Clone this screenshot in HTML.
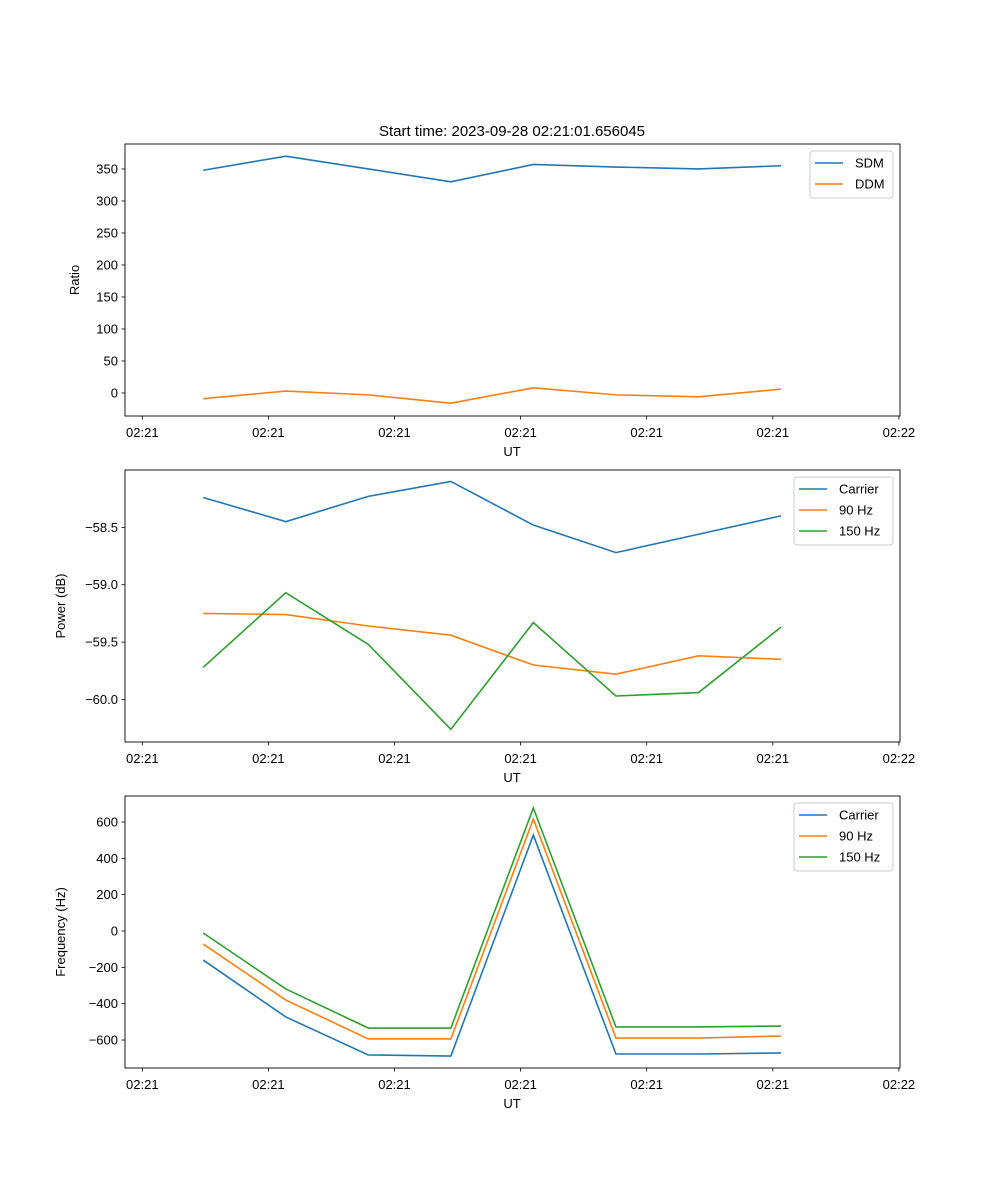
<!DOCTYPE html>
<html><head><meta charset="utf-8"><style>
html,body{margin:0;padding:0;background:#fff;}
svg{display:block;font-family:"Liberation Sans","DejaVu Sans",sans-serif;}
</style></head><body>
<svg id="fig" width="1000" height="1200" viewBox="0 0 1000 1200">
<text x="512" y="136" font-size="15" text-anchor="middle">Start time: 2023-09-28 02:21:01.656045</text>
</svg>
<script>
const times = [0.483, 1.138, 1.792, 2.447, 3.101, 3.756, 4.411, 5.065];
const xTicks = [0, 1, 2, 3, 4, 5, 6];
const xTickLabels = ["02:21","02:21","02:21","02:21","02:21","02:21","02:22"];
const sdm = [348, 370, 350, 330, 357, 353, 350, 355];
const ddm = [-9, 3, -3, -16, 8, -3, -6, 6];
const pCarrier = [-58.24, -58.45, -58.23, -58.10, -58.48, -58.72, -58.56, -58.40];
const p90 = [-59.25, -59.26, -59.36, -59.44, -59.70, -59.78, -59.62, -59.65];
const p150 = [-59.72, -59.07, -59.52, -60.26, -59.33, -59.97, -59.94, -59.37];
const fCarrier = [-160, -473, -682, -688, 528, -677, -677, -671];
const f90 = [-72, -380, -594, -594, 616, -589, -589, -578];
const f150 = [-11, -319, -534, -534, 677, -528, -528, -523];
const ticks1 = [0, 50, 100, 150, 200, 250, 300, 350];
const ticks2 = [-58.5, -59.0, -59.5, -60.0];
const ticks3 = [-600, -400, -200, 0, 200, 400, 600];

const NS = "http://www.w3.org/2000/svg";
const svg = document.getElementById('fig');
function mk(tag, attrs, parent) {
  const e = document.createElementNS(NS, tag);
  for (const k in attrs) e.setAttribute(k, attrs[k]);
  (parent || svg).appendChild(e);
  return e;
}
const L = 125, R = 900;
const xs = t => 142.3 + (t) * 126.1;
function fmt(v, dec) { return (v < 0 ? "\u2212" : "") + Math.abs(v).toFixed(dec); }

function panel(id, top, bottom, ymin, ymax, yticks, dec, ylabel, series, legend) {
  const g = mk('g', {});
  
  
  const ys = v => bottom - (v - ymin) / (ymax - ymin) * (bottom - top);
  yticks.forEach(v => {
    const y = ys(v);
    mk('line', {x1: L - 3.5, x2: L, y1: y, y2: y, stroke: '#000', 'stroke-width': 0.8}, g);
    const t = mk('text', {x: L - 7, y: y + 4.5, 'font-size': 13, 'text-anchor': 'end'}, g);
    t.textContent = fmt(v, dec);
    
    
  });
  xTicks.forEach((v, i) => {
    const x = xs(v);
    mk('line', {x1: x, x2: x, y1: bottom, y2: bottom + 3.5, stroke: '#000', 'stroke-width': 0.8}, g);
    const t = mk('text', {x: x, y: bottom + 21, 'font-size': 13, 'text-anchor': 'middle'}, g);
    t.textContent = xTickLabels[i];
    
    
  });
  const xl = mk('text', {x: 512, y: bottom + 40, 'font-size': 13, 'text-anchor': 'middle'}, g);
  xl.textContent = 'UT';
  
  
  const yl = mk('text', {x: 0, y: 0, 'font-size': 13, 'text-anchor': 'middle', transform: `translate(${id==='ratio'?79:65},${(top+bottom)/2}) rotate(-90)`}, g);
  yl.textContent = ylabel;
  
  
  series.forEach(s => {
    const p = mk('polyline', {points: s.vals.map((v, i) => xs(times[i]) + ',' + ys(v)).join(' '), fill: 'none', stroke: s.color, 'stroke-width': 1.6}, g);
    
    
  });
  mk('rect', {x: L, y: top, width: R - L, height: bottom - top, fill: 'none', stroke: '#000', 'stroke-width': 0.9}, g);
  const lg = mk('g', {}, g);
  
  
  mk('rect', {x: legend.x, y: top + 7, width: 893 - legend.x, height: series.length * 21 + 5, rx: 3, fill: '#fff', 'fill-opacity': 0.8, stroke: '#ccc'}, lg);
  series.forEach((s, i) => {
    const y = top + 19 + i * 21;
    mk('line', {x1: legend.x + 5, x2: legend.x + 33, y1: y, y2: y, stroke: s.color, 'stroke-width': 1.6}, lg);
    const t = mk('text', {x: legend.x + 45, y: y + 4.5, 'font-size': 13}, lg);
    t.textContent = s.name;
    
    
  });
}
const C1 = '#1f77b4', C2 = '#ff7f0e', C3 = '#2ca02c';
panel('ratio', 144, 416, -36, 389, ticks1, 0, 'Ratio',
  [{name: 'SDM', vals: sdm, color: C1}, {name: 'DDM', vals: ddm, color: C2}], {x: 810});
panel('power', 470, 742, -60.371, -58.0, ticks2, 1, 'Power (dB)',
  [{name: 'Carrier', vals: pCarrier, color: C1}, {name: '90 Hz', vals: p90, color: C2}, {name: '150 Hz', vals: p150, color: C3}], {x: 794});
panel('frequency', 796, 1068, -754, 743, ticks3, 0, 'Frequency (Hz)',
  [{name: 'Carrier', vals: fCarrier, color: C1}, {name: '90 Hz', vals: f90, color: C2}, {name: '150 Hz', vals: f150, color: C3}], {x: 794});
</script>
</body></html>
